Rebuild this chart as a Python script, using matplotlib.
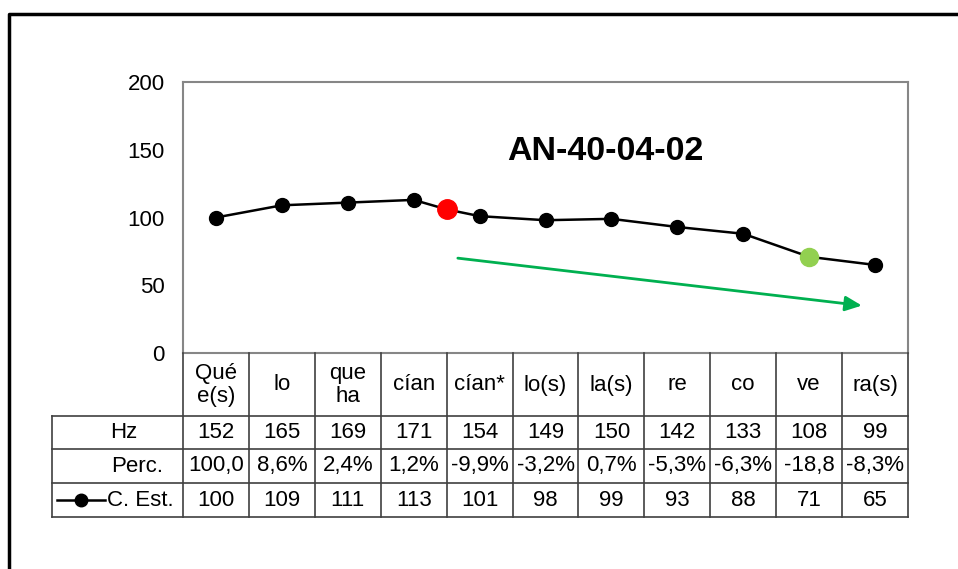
import matplotlib.pyplot as plt
import matplotlib.transforms as mtransforms
from matplotlib.lines import Line2D

plt.rcParams['font.family'] = ['Liberation Sans', 'DejaVu Sans']

categories = ["Qué\ne(s)", "lo", "que\nha", "cían", "cían*", "lo(s)", "la(s)", "re", "co", "ve", "ra(s)"]
hz = ["152", "165", "169", "171", "154", "149", "150", "142", "133", "108", "99"]
perc = ["100,0", "8,6%", "2,4%", "1,2%", "-9,9%", "-3,2%", "0,7%", "-5,3%", "-6,3%", "-18,8", "-8,3%"]
c_est = [100, 109, 111, 113, 101, 98, 99, 93, 88, 71, 65]
red_point = (3.5, 106)   # marcador rojo entre cían y cían*
green_index = 9          # "ve"
trend_start = (3.67, 70)
trend_end = (9.8, 35)

W, H = 958, 569
FS = 16
fig = plt.figure(figsize=(W / 100, H / 100), dpi=100)

def fy(y):
    return 1 - y / H

ax = fig.add_axes([183 / W, fy(353), 725 / W, 271 / H])
x = list(range(len(c_est)))

# la línea pasa por el marcador rojo
line_x = x[:4] + [red_point[0]] + x[4:]
line_y = c_est[:4] + [red_point[1]] + c_est[4:]
ax.plot(line_x, line_y, color='black', lw=1.8, zorder=2)
ax.plot(x, c_est, 'o', color='black', ms=10, zorder=3)
ax.plot([red_point[0]], [red_point[1]], 'o', color='#ff0000', ms=14, zorder=4)
ax.plot([green_index], [c_est[green_index]], 'o', color='#92d050', ms=13, zorder=4)

ax.annotate("", xy=trend_end, xytext=trend_start,
            arrowprops=dict(arrowstyle='-|>,head_length=1.0,head_width=0.45',
                            color='#00b050', lw=2, shrinkA=0, shrinkB=0))

pxx = mtransforms.Affine2D().scale(1 / W, 1) + fig.transFigure
fig.text(605, fy(151), "AN-40-04-02", transform=pxx,
         ha='center', va='center', fontsize=24.5, fontweight='bold')

ax.set_xlim(-0.5, len(c_est) - 0.5)
ax.set_ylim(0, 200)
ax.set_yticks([0, 50, 100, 150, 200])
ax.set_xticks([])
ax.tick_params(axis='y', length=0, pad=13, labelsize=FS)
for s in ax.spines.values():
    s.set_color('#868686')
    s.set_linewidth(1.5)

# tabla de datos
tr = mtransforms.blended_transform_factory(ax.transData, fig.transFigure)
grid = '#404040'
rows_y = [416, 449, 483, 517]
n = len(categories)

for i in range(n + 1):
    fig.add_artist(Line2D([i - 0.5, i - 0.5], [fy(353), fy(517)], transform=tr, color=grid, lw=1.2))
fig.add_artist(Line2D([52, 52], [fy(416), fy(517)], transform=pxx, color=grid, lw=1.2))
for y in rows_y:
    fig.add_artist(Line2D([52, 908], [fy(y), fy(y)], transform=pxx, color=grid, lw=1.2))

for i in range(n):
    fig.text(i, fy(385), categories[i], transform=tr, ha='center', va='center', fontsize=FS,
             linespacing=1.15)
    fig.text(i, fy(433), hz[i], transform=tr, ha='center', va='center', fontsize=FS)
    fig.text(i, fy(466), perc[i], transform=tr, ha='center', va='center', fontsize=FS)
    fig.text(i, fy(500), str(c_est[i]), transform=tr, ha='center', va='center', fontsize=FS)

fig.text(124, fy(433), "Hz", transform=pxx, ha='center', va='center', fontsize=FS)
fig.text(137, fy(466), "Perc.", transform=pxx, ha='center', va='center', fontsize=FS)
fig.text(107, fy(500), "C. Est.", transform=pxx, ha='left', va='center', fontsize=FS)
fig.add_artist(Line2D([57, 105], [fy(500), fy(500)], transform=pxx, color='black', lw=1.8))
fig.add_artist(Line2D([81], [fy(500)], transform=pxx, marker='o', color='black', ms=9))

# marco exterior
fig.add_artist(Line2D([9, 9, W], [0, fy(14), fy(14)], transform=pxx, color='black', lw=2.5))

fig.savefig("out.png", dpi=100)
